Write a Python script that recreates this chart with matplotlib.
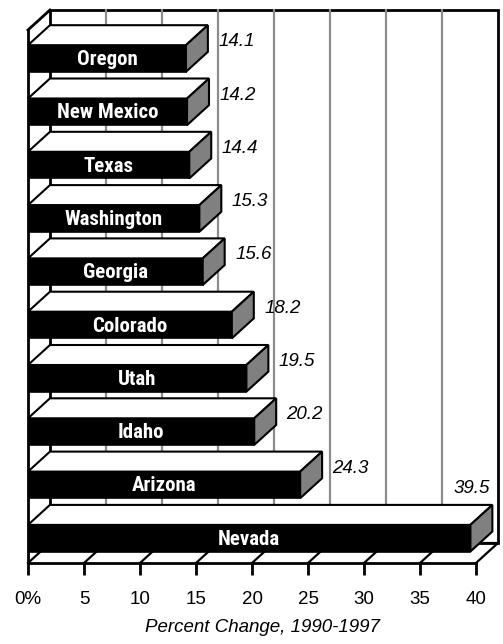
import matplotlib
matplotlib.use("Agg")
import matplotlib.pyplot as plt
from matplotlib import font_manager
from matplotlib.patches import Polygon, Rectangle

# data
states = ["Oregon", "New Mexico", "Texas", "Washington", "Georgia",
          "Colorado", "Utah", "Idaho", "Arizona", "Nevada"]
pct_change = [14.1, 14.2, 14.4, 15.3, 15.6, 18.2, 19.5, 20.2, 24.3, 39.5]
x_ticks = [0, 5, 10, 15, 20, 25, 30, 35, 40]
x_tick_labels = ["0%", "5", "10", "15", "20", "25", "30", "35", "40"]
x_title = "Percent Change, 1990-1997"

# style / geometry
W, H = 503, 644
DX = 1.96      # depth in percent units (~22 px)
DY = 0.375     # depth in row units (~20 px)
BAR_H = 0.5
GRID_C = "#8c8c8c"
SIDE_C = "#808080"
regular = ["Liberation Sans", "DejaVu Sans"]

# narrow bold font for the bar labels, if one is around
installed = {f.name for f in font_manager.fontManager.ttflist}
narrow_names = [n for n in ("Liberation Sans Narrow", "Arial Narrow", "Roboto Condensed")
                if n in installed]
if narrow_names:
    label_font, label_size = [narrow_names[0]], 15
else:
    label_font, label_size = ["Liberation Sans", "DejaVu Sans"], 13.2

fig = plt.figure(figsize=(W / 100, H / 100), dpi=100)
ax = fig.add_axes([28 / W, (H - 563) / H, 448 / W, 533 / H])
xmin, xmax = 0, 40
ytop, ybot = -0.535, 9.465
ax.set_xlim(xmin, xmax)
ax.set_ylim(ybot, ytop)

# back wall
ax.add_patch(Rectangle((xmin + DX, ytop - DY), xmax - xmin, ybot - ytop,
                       facecolor="white", edgecolor="black", lw=2,
                       clip_on=False, zorder=1))
for t in x_ticks[1:-1]:
    ax.plot([t + DX, t + DX], [ytop - DY, ybot - DY], color=GRID_C, lw=1.6,
            clip_on=False, zorder=1.5)

# floor
ax.plot([xmin + DX, xmax + DX], [ybot - DY, ybot - DY], color="black", lw=1.6,
        clip_on=False, zorder=2)
for t in x_ticks:
    ax.plot([t, t + DX], [ybot, ybot - DY], color="black", lw=1.6,
            clip_on=False, zorder=2)

# left wall top edge
ax.plot([xmin, xmin + DX], [ytop, ytop - DY], color="black", lw=2,
        clip_on=False, zorder=2)

# bars
rows = list(range(len(states)))
ax.barh(rows, pct_change, height=BAR_H, color="black", edgecolor="black",
        lw=1.2, zorder=3)
for r, v, name in zip(rows, pct_change, states):
    top = r - BAR_H / 2
    bot = r + BAR_H / 2
    ax.add_patch(Polygon([(0, top), (v, top), (v + DX, top - DY), (DX, top - DY)],
                         closed=True, facecolor="white", edgecolor="black",
                         lw=1.5, clip_on=False, zorder=3.2, joinstyle="miter"))
    ax.add_patch(Polygon([(v, top), (v + DX, top - DY), (v + DX, bot - DY), (v, bot)],
                         closed=True, facecolor=SIDE_C, edgecolor="black",
                         lw=1.5, clip_on=False, zorder=3.2, joinstyle="miter"))
    ax.text(v / 2, r + 0.02, name, color="white", fontsize=label_size,
            fontweight="bold", family=label_font, ha="center", va="center",
            zorder=4)
    if v > 35:
        ax.annotate(f"{v:.1f}", xy=(v + DX, top - DY), xytext=(-2, 12),
                    textcoords="offset points", ha="right", va="center",
                    fontsize=13.5, style="italic", family=regular,
                    annotation_clip=False)
    else:
        ax.annotate(f"{v:.1f}", xy=(v + DX, top), xytext=(7.5, 2.5),
                    textcoords="offset points", ha="left", va="center",
                    fontsize=13.5, style="italic", family=regular,
                    annotation_clip=False)

# axes
for s in ("top", "right"):
    ax.spines[s].set_visible(False)
ax.spines["left"].set_linewidth(2)
ax.spines["bottom"].set_linewidth(2)
ax.set_yticks([])
ax.set_xticks(x_ticks)
ax.set_xticklabels(x_tick_labels, fontsize=13.5, family=regular)
ax.tick_params(axis="x", length=8.5, width=2, pad=11.5, direction="out")
ax.set_facecolor("none")

fig.text(262 / W, 1 - 627 / H, x_title, ha="center", va="center",
         fontsize=13.5, style="italic", family=regular)

fig.savefig("out.png", dpi=100)
